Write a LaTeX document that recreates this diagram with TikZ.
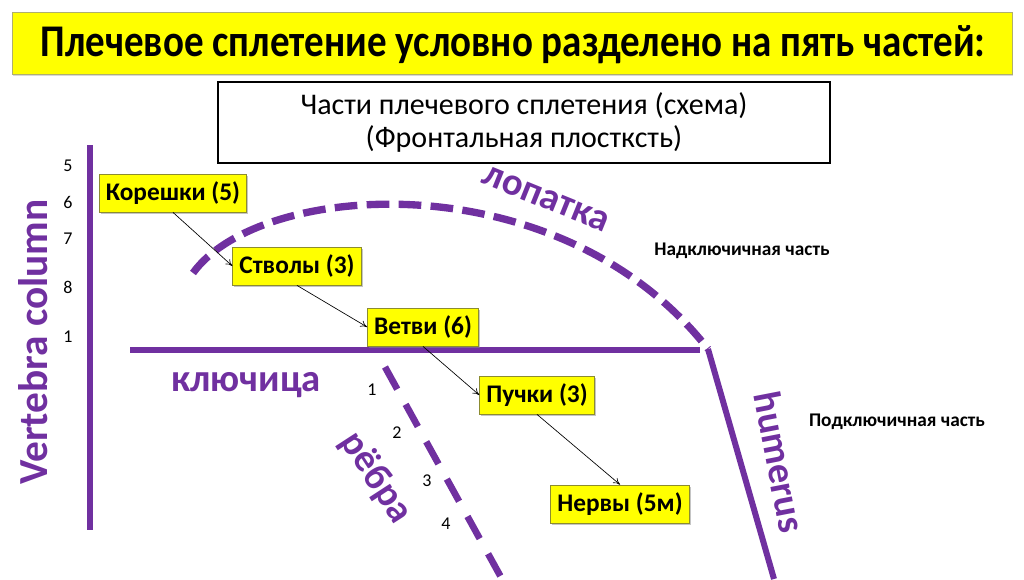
\documentclass[tikz,border=0pt]{standalone}
\usepackage{fontspec}
\setmainfont{Carlito}
\usetikzlibrary{arrows.meta,shadows}
\definecolor{vio}{HTML}{7030A0}
\definecolor{ylw}{HTML}{FFFF00}
\definecolor{olive}{HTML}{8C8C30}
\tikzset{
  ybox/.style={draw=olive, line width=0.6pt, fill=ylw, font=\fontsize{19}{21}\selectfont\bfseries,
    inner xsep=5pt, inner ysep=4pt, minimum height=28.5pt, drop shadow={shadow xshift=1.2pt, shadow yshift=-1.2pt, fill=black!45}},
  bone/.style={draw=vio, line width=4.5pt},
  dbone/.style={draw=vio, line width=5.5pt, dash pattern=on 17pt off 7pt},
  rib/.style={draw=vio, line width=5pt, dash pattern=on 19pt off 13pt},
  plab/.style={text=vio, font=\fontsize{29}{32}\selectfont\bfseries, inner sep=0pt},
  num/.style={font=\fontsize{13.5}{15}\selectfont, inner sep=0pt},
  part/.style={font=\fontsize{14.5}{16}\selectfont\bfseries, inner sep=0pt},
  arr/.style={-{To[length=5pt,width=5pt]}, line width=0.5pt}
}
\begin{document}
\begin{tikzpicture}[x=0.75pt,y=-0.75pt]
\useasboundingbox (0,0) rectangle (1024,579);
% title
\node[draw=olive!70, line width=0.6pt, fill=ylw, minimum width=750pt, minimum height=47pt,
  drop shadow={shadow xshift=1pt, shadow yshift=-1pt, fill=black!30}] (title) at (512,43.5) {};
\node[font=\fontsize{34}{36}\selectfont\bfseries, inner sep=0pt] (tt) at (513,45) {\scalebox{0.86}[1]{Плечевое сплетение условно разделено на пять частей:}};
% subtitle
\node[draw=black, line width=1pt, minimum width=459pt, minimum height=60.75pt, align=center,
  font=\fontsize{22.5}{25}\selectfont] (sub) at (524,122.5) {Части плечевого сплетения (схема)\\(Фронтальная плостксть)};
% bones
\coordinate (vt) at (90,145);
\coordinate (vb) at (90,530);
\draw[bone] (vt) -- (vb);
\coordinate (cl) at (130,350);
\coordinate (cr) at (700,350);
\draw[bone] (cl) -- (cr);
\coordinate (ht) at (708,349);
\coordinate (hb) at (774,579);
\draw[bone] (ht) -- (hb);
\coordinate (ss) at (193,273);
\draw[dbone] (ss) .. controls (260,180) and (560,160) .. (ht);
\coordinate (r1) at (385,367);
\coordinate (r2) at (502,579);
\draw[rib] (r1) -- (r2);
% bone labels
\node[plab, rotate=90, font=\fontsize{31}{33}\selectfont\bfseries] (vc) at (33,342) {Vertebra column};
\node[plab] (kl) at (246,385) {ключица};
\node[plab, rotate=-22] (lop) at (546,199) {лопатка};
\node[plab, rotate=-57] (reb) at (376,478) {рёбра};
\node[plab, rotate=-79] (hum) at (780,462) {humerus};
% numbers
\node[num] (n5) at (68,166) {5};
\node[num] (n6) at (68,202) {6};
\node[num] (n7) at (68,239) {7};
\node[num] (n8) at (68,287) {8};
\node[num] (n1) at (68,337) {1};
\node[num] (m1) at (372,390) {1};
\node[num] (m2) at (397,433) {2};
\node[num] (m3) at (427,481) {3};
\node[num] (m4) at (446,524) {4};
% parts
\node[part] (nad) at (742,251) {Надключичная часть};
\node[part] (pod) at (897,422) {Подключичная часть};
% boxes
\node[ybox] (k) at (173,193) {Корешки (5)};
\node[ybox] (s) at (297,266) {Стволы (3)};
\node[ybox] (v) at (423,327) {Ветви (6)};
\node[ybox] (p) at (537,395) {Пучки (3)};
\node[ybox] (n) at (620,504) {Нервы (5м)};
% arrows
\draw[arr] (k.south) -- (s.west);
\draw[arr] (s.south) -- (v.west);
\draw[arr] (v.south) -- (p.west);
\draw[arr] (p.south) -- (n.north);
\end{tikzpicture}
\end{document}
